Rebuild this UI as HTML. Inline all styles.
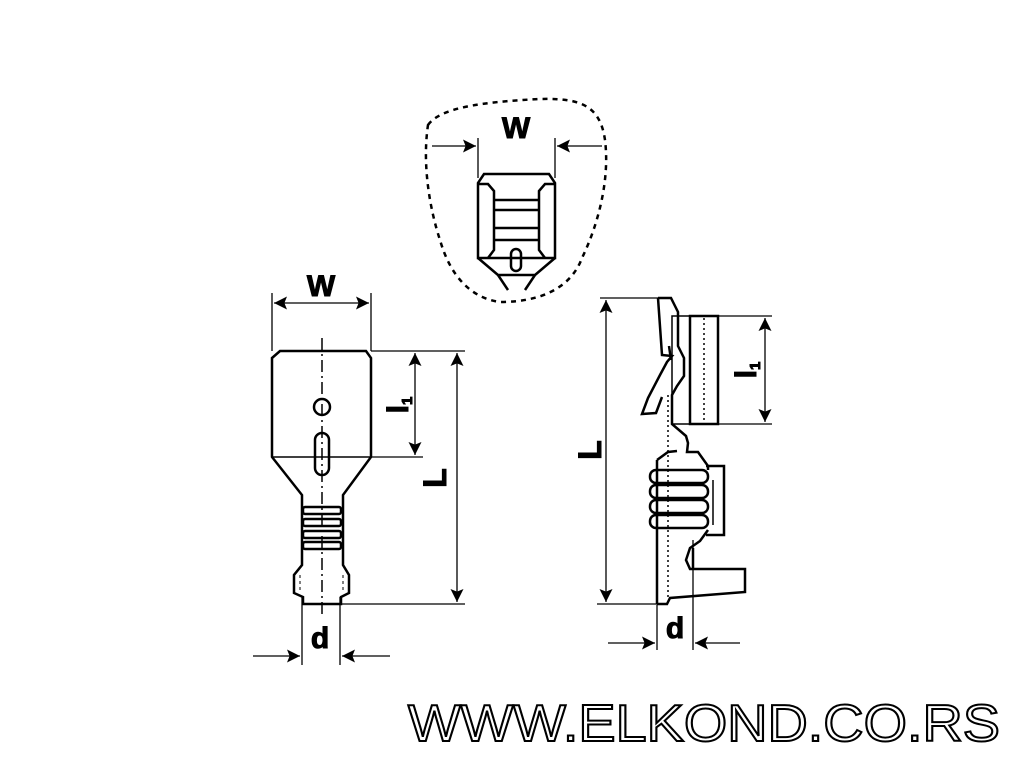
<!DOCTYPE html>
<html><head><style>body{margin:0;background:#fff}svg{display:block}</style></head><body>
<svg width="1024" height="768" viewBox="0 0 1024 768" xmlns="http://www.w3.org/2000/svg" font-family="Liberation Sans, sans-serif">
<defs>
<marker id="a" viewBox="0 0 10 10" refX="10" refY="5" markerWidth="20" markerHeight="13" markerUnits="userSpaceOnUse" orient="auto-start-reverse"><path d="M0,0L10,5L0,10L2,5z" fill="#000"/></marker>
</defs>
<g stroke="#000" fill="none">
<!-- LEFT -->
<g stroke-width="1.3">
<line x1="272" y1="293" x2="272" y2="351"/><line x1="371" y1="293" x2="371" y2="351"/>
<line x1="274" y1="303" x2="369" y2="303" marker-start="url(#a)" marker-end="url(#a)"/>
<line x1="371" y1="351" x2="465" y2="351"/><line x1="371" y1="457" x2="423" y2="457"/>
<line x1="340" y1="604" x2="465" y2="604"/>
<line x1="415" y1="353" x2="415" y2="455" marker-start="url(#a)" marker-end="url(#a)"/>
<line x1="457" y1="353" x2="457" y2="602" marker-start="url(#a)" marker-end="url(#a)"/>
<line x1="302" y1="597" x2="302" y2="665"/><line x1="340" y1="597" x2="340" y2="665"/>
<line x1="253" y1="656" x2="300" y2="656" marker-end="url(#a)"/>
<line x1="390" y1="656" x2="342" y2="656" marker-end="url(#a)"/>
</g>
<g stroke-width="2.5">
<path d="M280,351H366L371,358V457L343,495V565L349,575V593L341,597V604H303V597L294,593V575L302,565V495L272,457V358Z"/>
<line x1="272" y1="457" x2="371" y2="457" stroke-width="1.5"/>
<circle cx="322" cy="407" r="8"/>
<rect x="315" y="433" width="14" height="42" rx="7"/>
<rect x="303" y="507" width="38" height="7" rx="2"/>
<rect x="303" y="519" width="38" height="7" rx="2"/>
<rect x="303" y="531" width="38" height="7" rx="2"/>
<rect x="303" y="542" width="38" height="7" rx="2"/>
</g>
<line x1="322" y1="338" x2="322" y2="615" stroke-width="1.5" stroke-dasharray="12,4,2,4"/>
<line x1="300" y1="575" x2="300" y2="593" stroke-dasharray="3,3"/><line x1="343" y1="575" x2="343" y2="593" stroke-dasharray="3,3"/>
<!-- RIGHT -->
<g stroke-width="1.3">
<line x1="600" y1="298" x2="660" y2="298"/><line x1="597" y1="604" x2="656" y2="604"/>
<line x1="606" y1="300" x2="606" y2="602" marker-start="url(#a)" marker-end="url(#a)"/>
<line x1="718" y1="316" x2="772" y2="316"/><line x1="718" y1="424" x2="772" y2="424"/>
<line x1="765" y1="318" x2="765" y2="422" marker-start="url(#a)" marker-end="url(#a)"/>
<line x1="657" y1="600" x2="657" y2="650"/><line x1="693" y1="540" x2="693" y2="650"/>
<line x1="608" y1="643" x2="655" y2="643" marker-end="url(#a)"/>
<line x1="740" y1="643" x2="695" y2="643" marker-end="url(#a)"/>
</g>
<g stroke-width="2.5">
<path d="M658,298H671L678,312V346L684,358V376L677,386L672,395V424L686,436L688,443L687,452H698L708,466V470"/>
<path d="M658,298L662,355L672,356L667,362L660,375L648,398L642,414L656,413L662,397"/>
<path d="M669,346L671,360"/>
<rect x="672" y="316" width="18" height="108" stroke-width="1.5"/>
<rect x="690" y="316" width="28" height="108"/>
<path d="M657,460V604"/>
<path d="M657,460L668,452L677,451"/>
<rect x="650" y="470" width="58" height="13" rx="6"/>
<rect x="650" y="485" width="58" height="13" rx="6"/>
<rect x="650" y="500" width="58" height="13" rx="6"/>
<rect x="650" y="515" width="58" height="13" rx="6"/>
<path d="M706,466H724V535H706"/>
<line x1="713" y1="480" x2="713" y2="525" stroke-width="1.5"/>
<path d="M708,530L700,541L690,548L686,560L690,569L745,569V592L670,598L667,604H657"/>
<path d="M693,548V569"/>
</g>
<line x1="668" y1="395" x2="668" y2="600" stroke-width="1.5" stroke-dasharray="2,3"/>
<line x1="704" y1="318" x2="704" y2="422" stroke-width="1.5" stroke-dasharray="2,3"/>
<!-- TOP DETAIL -->
<path d="M428,125C440,108 480,102 540,99C580,98 600,105 605,140C610,180 598,225 582,258C572,285 545,302 500,302C470,298 450,275 440,240C430,210 422,165 428,125Z" stroke-width="2.5" stroke-dasharray="5,5"/>
<g stroke-width="1.3">
<line x1="478" y1="138" x2="478" y2="178"/><line x1="555" y1="138" x2="555" y2="178"/>
<line x1="432" y1="146" x2="476" y2="146" marker-end="url(#a)"/>
<line x1="602" y1="146" x2="557" y2="146" marker-end="url(#a)"/>
</g>
<g stroke-width="2.5">
<path d="M484,174H549L555,183V258H478V183Z"/>
<path d="M478,184H488L494,191V250L488,258"/>
<path d="M555,184H545L539,191V250L545,258"/>
<path d="M494,200H539M494,210H539M494,228H539M494,240H539"/>
<rect x="511" y="249" width="10" height="22" rx="5"/>
<path d="M478,258L498,275L508,290M555,258L535,275L525,290M498,275H535"/>
</g>
</g>
<g font-weight="bold" fill="#000" stroke="#000" stroke-width="1">
<text x="321" y="296" font-size="30" text-anchor="middle">W</text>
<text x="516" y="138" font-size="30" text-anchor="middle">W</text>
<text x="320" y="648" font-size="30" text-anchor="middle">d</text>
<text x="675" y="638" font-size="30" text-anchor="middle">d</text>
<text transform="translate(446,478) rotate(-90)" font-size="32" text-anchor="middle">L</text>
<text transform="translate(601,450) rotate(-90)" font-size="32" text-anchor="middle">L</text>
<text transform="translate(408,405) rotate(-90)" font-size="30" text-anchor="middle">l<tspan font-size="15" dy="4">1</tspan></text>
<text transform="translate(756,370) rotate(-90)" font-size="30" text-anchor="middle">l<tspan font-size="15" dy="4">1</tspan></text>
</g>
<text x="408" y="741" font-size="52" fill="#fff" stroke="#000" stroke-width="2" textLength="592" lengthAdjust="spacingAndGlyphs">WWW.ELKOND.CO.RS</text>
</svg>
</body></html>
